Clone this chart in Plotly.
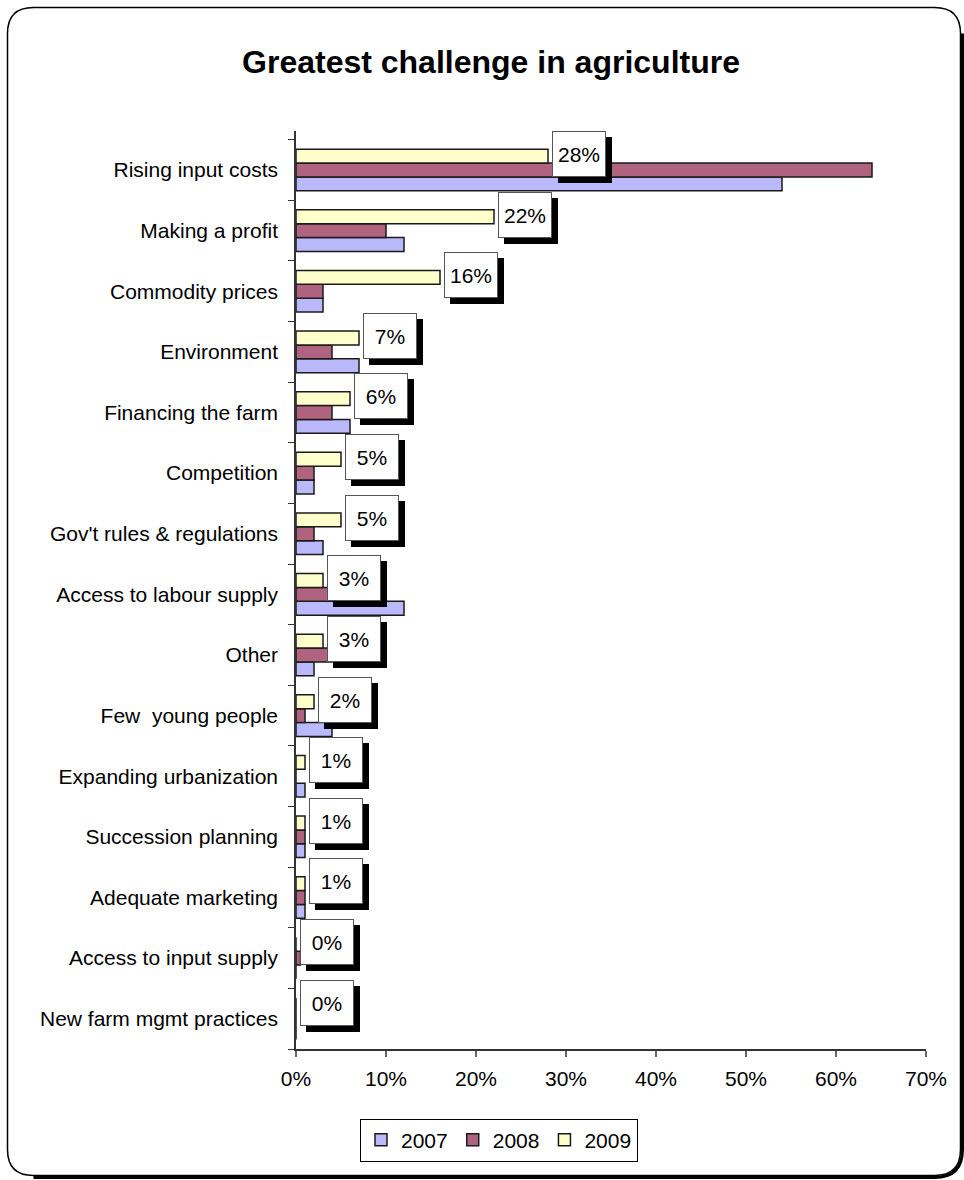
import plotly.graph_objects as go

# Survey: greatest challenge in agriculture, share of respondents (%)
categories = [
    "Rising input costs", "Making a profit", "Commodity prices", "Environment",
    "Financing the farm", "Competition", "Gov't rules & regulations",
    "Access to labour supply", "Other", "Few\u00a0 young people",
    "Expanding urbanization", "Succession planning", "Adequate marketing",
    "Access to input supply", "New farm mgmt practices",
]
pct_2007 = [54, 12, 3, 7, 6, 2, 3, 12, 2, 4, 1, 1, 1, 0, 0]
pct_2008 = [64, 10, 3, 4, 4, 2, 2, 4, 4, 1, 0, 1, 1, 0.5, 0]
pct_2009 = [28, 22, 16, 7, 6, 5, 5, 3, 3, 2, 1, 1, 1, 0, 0]
x_ticks = [0, 10, 20, 30, 40, 50, 60, 70]

FONT = "Arial, 'Liberation Sans', sans-serif"
W, H = 964, 1180
# plot area in pixels
PL, PR, PT, PB = 296, 926, 131, 1049

fig = go.Figure()
series = [("2007", pct_2007, "#b9b9fb"), ("2008", pct_2008, "#b0637f"), ("2009", pct_2009, "#ffffcc")]
for name, vals, col in series:
    fig.add_trace(go.Bar(
        name=name, y=categories, x=vals, orientation="h",
        marker=dict(color=col, line=dict(color="#1a1a1a", width=1.5)),
    ))

# boxed value labels with drop shadow for the 2009 series
band = (PB - PT) / len(categories)
bar_px = band * (1 - 0.314) / 3
yoff = bar_px + 2
for cat, v in zip(categories, pct_2009):
    common = dict(x=v, y=cat, xref="x", yref="y", xanchor="left", yanchor="middle",
                  showarrow=False, width=50, height=42, borderpad=1, borderwidth=1)
    fig.add_annotation(text="", bgcolor="black", bordercolor="black",
                       xshift=10, yshift=yoff - 6, **common)
    fig.add_annotation(text=f"{v:.0f}%", bgcolor="white", bordercolor="#555555",
                       font=dict(family=FONT, size=21, color="black"),
                       xshift=4, yshift=yoff, **common)

def px(xp):
    return (xp - PL) / (PR - PL)

def py(yp):
    return (PB - yp) / (PB - PT)

def rounded(x0, y0, x1, y1, r):
    return (f"M {px(x0 + r)},{py(y0)} L {px(x1 - r)},{py(y0)} "
            f"Q {px(x1)},{py(y0)} {px(x1)},{py(y0 + r)} L {px(x1)},{py(y1 - r)} "
            f"Q {px(x1)},{py(y1)} {px(x1 - r)},{py(y1)} L {px(x0 + r)},{py(y1)} "
            f"Q {px(x0)},{py(y1)} {px(x0)},{py(y1 - r)} L {px(x0)},{py(y0 + r)} "
            f"Q {px(x0)},{py(y0)} {px(x0 + r)},{py(y0)} Z")

# chart frame with a shadow along the bottom/right edges
fx0, fy0, fx1, fy1, rad = 7.5, 7.5, 960.5, 1175.5, 26
shadow = (f"M {px(fx0 + rad)},{py(fy1 + 2)} L {px(fx1 - rad)},{py(fy1 + 2)} "
          f"Q {px(fx1 + 2)},{py(fy1 + 2)} {px(fx1 + 2)},{py(fy1 - rad)} L {px(fx1 + 2)},{py(fy0 + rad)}")
fig.add_shape(type="path", path=shadow, xref="paper", yref="paper",
              line=dict(color="black", width=3), layer="below")
fig.add_shape(type="path", path=rounded(fx0, fy0, fx1, fy1, rad), xref="paper", yref="paper",
              line=dict(color="black", width=1.5), layer="below")

fig.update_layout(
    width=W, height=H,
    margin=dict(l=PL, r=W - PR, t=PT, b=H - PB, autoexpand=False),
    paper_bgcolor="white", plot_bgcolor="white",
    barmode="group", bargap=0.314, bargroupgap=0,
    font=dict(family=FONT, size=21, color="black"),
    title=dict(text="<b>Greatest challenge in agriculture</b>",
               font=dict(family=FONT, size=32, color="black"),
               x=491 / W, xref="container", xanchor="center",
               y=1 - 62 / H, yref="container", yanchor="middle"),
    showlegend=True,
    legend=dict(orientation="h", traceorder="normal",
                x=499 / W, xref="container", xanchor="center",
                y=1 - 1140 / H, yref="container", yanchor="middle",
                bordercolor="black", borderwidth=1, bgcolor="white",
                font=dict(family=FONT, size=21, color="black"),
                itemwidth=30, tracegroupgap=0),
    xaxis=dict(range=[0, 70], tickvals=x_ticks, ticktext=[f"{t}%" for t in x_ticks],
               showgrid=False, zeroline=False, showline=True, linecolor="#333333", linewidth=1.5,
               ticks="outside", ticklen=6, tickcolor="#666666", tickwidth=1.5,
               ticklabelstandoff=4,
               tickfont=dict(family=FONT, size=21, color="black"), fixedrange=True),
    yaxis=dict(type="category", categoryorder="array", categoryarray=categories[::-1],
               showgrid=False, zeroline=False, showline=True, linecolor="#333333", linewidth=1.5,
               ticks="outside", ticklen=6, tickcolor="#333333", tickson="boundaries",
               ticklabelstandoff=12,
               tickfont=dict(family=FONT, size=21, color="black"), fixedrange=True),
)

fig.write_html("out.html")
